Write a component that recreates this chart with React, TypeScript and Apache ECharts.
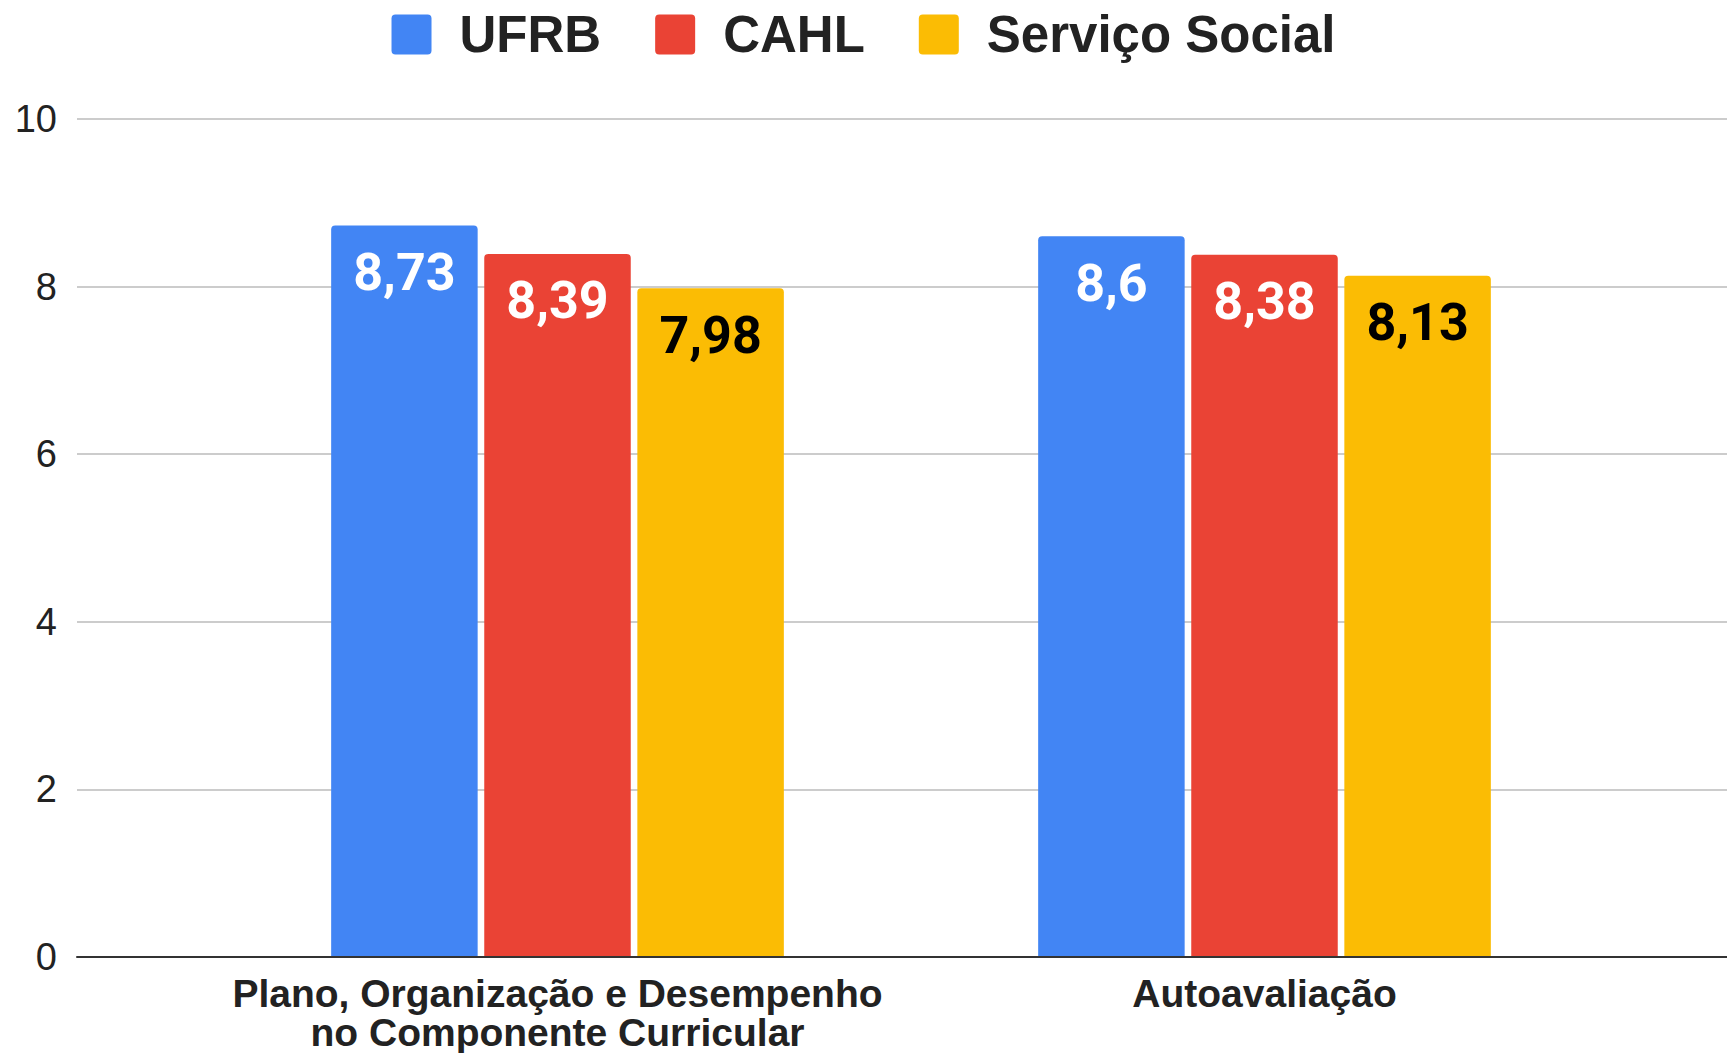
import React, { useEffect, useRef } from "react";
import * as echarts from "echarts";

const categories = [
  "Plano, Organização e Desempenho\nno Componente Curricular",
  "Autoavaliação",
];
const seriesNames = ["UFRB", "CAHL", "Serviço Social"];
const ufrbValues = [8.73, 8.6];
const cahlValues = [8.39, 8.38];
const servicoSocialValues = [7.98, 8.13];
const seriesColors = ["#4285F4", "#EA4335", "#FBBC04"];
const labelColors = ["#ffffff", "#ffffff", "#000000"];
const yTicks = { min: 0, max: 10, interval: 2 };

const sansFont = "Arial, 'Liberation Sans', sans-serif";
const legendIcon =
  "path://M4,0H36A4,4 0 0 1 40,4V36A4,4 0 0 1 36,40H4A4,4 0 0 1 0,36V4A4,4 0 0 1 4,0Z";

export default function App() {
  const ref = useRef<HTMLDivElement>(null);
  useEffect(() => {
    if (!ref.current) return;
    const chart = echarts.init(ref.current, undefined, { renderer: "svg" });
    const values = [ufrbValues, cahlValues, servicoSocialValues];
    const fmt = (p: any) => String(p.value).replace(".", ",");
    chart.setOption({
      animation: false,
      backgroundColor: "#ffffff",
      legend: {
        top: 4,
        left: "center",
        icon: legendIcon,
        itemWidth: 40,
        itemHeight: 40,
        itemGap: 54,
        textStyle: {
          fontSize: 51,
          fontWeight: "bold",
          fontFamily: sansFont,
          color: "#222222",
          padding: [0, 0, 0, 23],
        },
        data: seriesNames,
      },
      grid: [
        { left: 77, right: 0, top: 119, bottom: 96 },
        { left: 204, right: 109, top: 119, bottom: 96 },
      ],
      xAxis: [
        {
          gridIndex: 0,
          type: "category",
          data: categories,
          axisLabel: { show: false },
          axisTick: { show: false },
          axisLine: { show: true, lineStyle: { color: "#333333", width: 2 } },
          z: 5,
        },
        {
          gridIndex: 1,
          type: "category",
          data: categories,
          axisLine: { show: false },
          axisTick: { show: false },
          axisLabel: {
            margin: 17,
            fontSize: 39,
            fontWeight: "bold",
            fontFamily: sansFont,
            color: "#222222",
            lineHeight: 39,
            interval: 0,
          },
        },
      ],
      yAxis: [
        {
          gridIndex: 0,
          type: "value",
          min: yTicks.min,
          max: yTicks.max,
          interval: yTicks.interval,
          axisLine: { show: false },
          axisTick: { show: false },
          axisLabel: {
            margin: 20,
            fontSize: 38,
            fontFamily: sansFont,
            color: "#222222",
          },
          splitLine: { lineStyle: { color: "#cccccc", width: 2 } },
        },
        {
          gridIndex: 1,
          type: "value",
          min: yTicks.min,
          max: yTicks.max,
          interval: yTicks.interval,
          show: false,
          splitLine: { show: false },
        },
      ],
      series: seriesNames.map((name, i) => ({
        name,
        type: "bar",
        xAxisIndex: 1,
        yAxisIndex: 1,
        data: values[i],
        barWidth: 146.5,
        barGap: "4.5%",
        itemStyle: { color: seriesColors[i], borderRadius: [4, 4, 0, 0] },
        label: {
          show: true,
          position: "insideTop",
          distance: 21,
          formatter: fmt,
          fontSize: 52,
          fontWeight: "bold",
          fontFamily: "Roboto, sans-serif",
          color: labelColors[i],
        },
      })),
    });
    return () => chart.dispose();
  }, []);
  return (
    <div
      ref={ref}
      style={{ position: "fixed", left: 0, top: 0, width: 1727, height: 1053 }}
    />
  );
}
